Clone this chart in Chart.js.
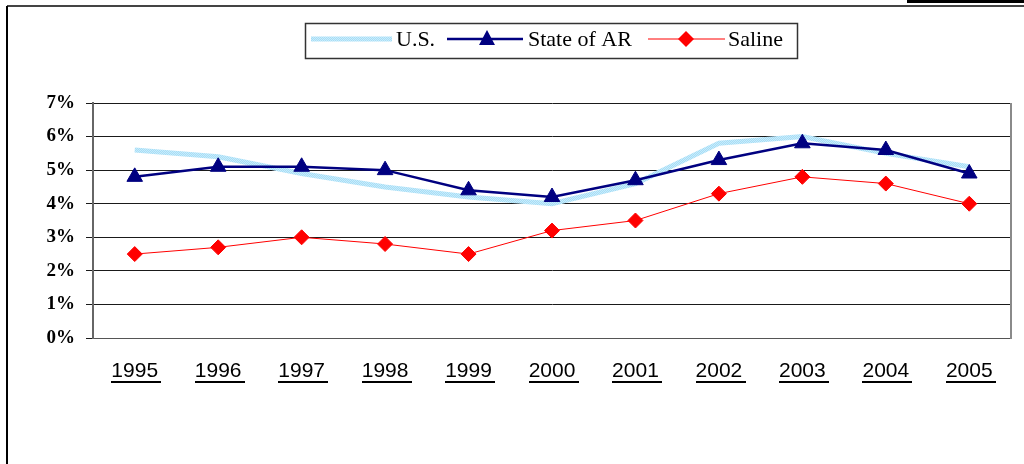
<!DOCTYPE html>
<html>
<head>
<meta charset="utf-8">
<script src="https://cdn.jsdelivr.net/npm/chart.js@4/dist/chart.umd.min.js"></script>
<style>
  html,body{margin:0;padding:0;background:#fff;}
  #wrap{width:1024px;height:464px;position:relative;}
</style>
</head>
<body>
<div id="wrap"><canvas id="c" width="1024" height="464"></canvas></div>
<script>
const years = ["1995","1996","1997","1998","1999","2000","2001","2002","2003","2004","2005"];
const usValues = [5.6, 5.4, 4.9, 4.5, 4.2, 4.0, 4.6, 5.8, 6.0, 5.5, 5.1];
const arValues = [4.8, 5.1, 5.1, 5.0, 4.4, 4.2, 4.7, 5.3, 5.8, 5.6, 4.9];
const salineValues = [2.5, 2.7, 3.0, 2.8, 2.5, 3.2, 3.5, 4.3, 4.8, 4.6, 4.0];
const seriesNames = ["U.S.", "State of AR", "Saline"];

// light blue textured pattern for the U.S. line
const pc = document.createElement('canvas');
pc.width = 2; pc.height = 2;
const pctx = pc.getContext('2d');
pctx.fillStyle = '#a6ddf6'; pctx.fillRect(0, 0, 2, 2);
pctx.fillStyle = '#c9ecfb'; pctx.fillRect(0, 0, 1, 1); pctx.fillRect(1, 1, 1, 1);
const usPattern = pctx.createPattern(pc, 'repeat');

const framePlugin = {
  id: 'frame',
  afterDraw(chart) {
    const ctx = chart.ctx;
    const ca = chart.chartArea;
    ctx.save();
    ctx.fillStyle = '#000';
    ctx.fillRect(907, 0, 117, 3);
    ctx.fillStyle = '#444';
    ctx.fillRect(7, 5, 1017, 2);
    ctx.fillStyle = '#000';
    ctx.fillRect(6, 6, 2, 458);
    ctx.strokeStyle = '#8a8a8a';
    ctx.lineWidth = 2;
    ctx.beginPath();
    ctx.moveTo(ca.right, ca.top);
    ctx.lineTo(ca.right, ca.bottom + 1);
    ctx.stroke();
    const xs = chart.scales.x;
    ctx.font = '21px "Liberation Sans", Arial, sans-serif';
    ctx.fillStyle = '#000';
    years.forEach((lab, i) => {
      const cx = xs.getPixelForValue(i);
      const w = ctx.measureText(lab).width;
      ctx.fillRect(Math.round(cx - w / 2), 381, Math.round(w + 3), 2);
    });
    // legend
    const lx = 305, ly = 23, lw = 492, lh = 35;
    ctx.strokeStyle = '#333';
    ctx.lineWidth = 1.5;
    ctx.strokeRect(lx + 0.5, ly + 0.5, lw, lh);
    const my = 39;
    const ds = chart.data.datasets;
    ctx.font = '22px "Liberation Serif", "Times New Roman", serif';
    ctx.textBaseline = 'middle';
    ctx.textAlign = 'left';
    ctx.strokeStyle = ds[0].borderColor; ctx.lineWidth = ds[0].borderWidth;
    ctx.beginPath(); ctx.moveTo(311, my); ctx.lineTo(392, my); ctx.stroke();
    ctx.fillStyle = '#000';
    ctx.fillText(seriesNames[0], 396, my + 1);
    ctx.strokeStyle = ds[1].borderColor; ctx.lineWidth = ds[1].borderWidth;
    ctx.beginPath(); ctx.moveTo(447, my); ctx.lineTo(523, my); ctx.stroke();
    ctx.fillStyle = ds[1].pointBackgroundColor;
    ctx.beginPath();
    ctx.moveTo(487, my - 9); ctx.lineTo(495, my + 6); ctx.lineTo(479, my + 6); ctx.closePath();
    ctx.fill();
    ctx.fillStyle = '#000';
    ctx.fillText(seriesNames[1], 528, my + 1);
    ctx.strokeStyle = ds[2].borderColor; ctx.lineWidth = ds[2].borderWidth;
    ctx.beginPath(); ctx.moveTo(648, my); ctx.lineTo(725, my); ctx.stroke();
    ctx.fillStyle = ds[2].pointBackgroundColor;
    ctx.beginPath();
    ctx.moveTo(686, my - 8); ctx.lineTo(694, my); ctx.lineTo(686, my + 8); ctx.lineTo(678, my); ctx.closePath();
    ctx.fill();
    ctx.fillStyle = '#000';
    ctx.fillText(seriesNames[2], 728, my + 1);
    ctx.restore();
  }
};

new Chart(document.getElementById('c'), {
  type: 'line',
  data: {
    labels: years,
    datasets: [
      {
        label: seriesNames[0], data: usValues,
        borderColor: usPattern, borderWidth: 5,
        pointRadius: 0, tension: 0, order: 3
      },
      {
        label: seriesNames[1], data: arValues,
        borderColor: '#000080', borderWidth: 2.5,
        pointStyle: 'triangle', pointRadius: 9,
        pointBackgroundColor: '#000080', pointBorderColor: '#000080', pointBorderWidth: 1,
        tension: 0, order: 2
      },
      {
        label: seriesNames[2], data: salineValues,
        borderColor: '#ff0000', borderWidth: 1,
        pointStyle: 'rectRot', pointRadius: 7.5,
        pointBackgroundColor: '#ff0000', pointBorderColor: '#ff0000', pointBorderWidth: 1,
        tension: 0, order: 1
      }
    ]
  },
  options: {
    responsive: false,
    animation: false,
    events: [],
    layout: { padding: { left: 0, top: 103, right: 13, bottom: 0 } },
    plugins: { legend: { display: false }, tooltip: { enabled: false } },
    scales: {
      x: {
        offset: true,
        grid: { display: false, drawTicks: false },
        border: { display: true, color: '#555', width: 1 },
        ticks: {
          color: '#000', padding: 21,
          font: { family: '"Liberation Sans", Arial, sans-serif', size: 21 },
          maxRotation: 0, autoSkip: false
        },
        afterFit(s) { s.height = 126; }
      },
      y: {
        min: 0, max: 7,
        grid: { color: '#1a1a1a', lineWidth: 1, drawTicks: true, tickLength: 7, tickColor: '#1a1a1a' },
        border: { display: true, color: '#666', width: 2 },
        ticks: {
          stepSize: 1, color: '#000', padding: 11,
          font: { family: '"Liberation Serif", "Times New Roman", serif', size: 19, weight: 'bold' },
          callback: v => v + '%'
        },
        afterFit(s) { s.width = 93; }
      }
    }
  },
  plugins: [framePlugin]
});
</script>
</body>
</html>
